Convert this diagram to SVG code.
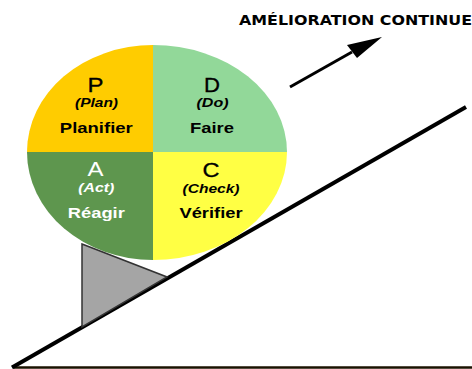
<svg xmlns="http://www.w3.org/2000/svg" width="472" height="369" viewBox="0 0 472 369">
<style>
text{font-family:"Liberation Sans",Arial,sans-serif;text-anchor:middle;fill:#000}
.l{font-size:21px;stroke:#000;stroke-width:.3px}
.s{font-size:12.5px;font-weight:bold;font-style:italic}
.m{font-size:15.5px;font-weight:bold}
.w{fill:#fff;stroke:none}
</style>
<rect width="472" height="369" fill="#fff"/>
<g id="connectors">
<path d="M14 367.500H472" stroke="#1a1200" stroke-width="2.500" fill="none"/>
<path d="M12 367.500L466 107" stroke="#000" stroke-width="4" fill="none"/>
<path d="M290 87L352 52" stroke="#000" stroke-width="3" fill="none"/>
<path d="M382 37L347 45L357 58Z" fill="#000"/>
</g>
<g id="wheel">
<path d="M153 152H27A126 107 0 0 1 153 45Z" fill="#ffcc00"/>
<path d="M153 152V45A134 107 0 0 1 287 152Z" fill="#92d899"/>
<path d="M153 152H287A134 108 0 0 1 153 260Z" fill="#ffff44"/>
<path d="M153 152V260A126 108 0 0 1 27 152Z" fill="#5e964e"/>
</g>
<g id="plan">
<text class="l" x="95.500" y="92" textLength="16" lengthAdjust="spacingAndGlyphs">P</text><text class="s" x="96.500" y="107" textLength="43" lengthAdjust="spacingAndGlyphs">(Plan)</text><text class="m" x="96.300" y="133" textLength="73" lengthAdjust="spacingAndGlyphs">Planifier</text>
</g>
<g id="do">
<text class="l" x="212" y="92" textLength="16" lengthAdjust="spacingAndGlyphs">D</text><text class="s" x="212.500" y="107" textLength="32" lengthAdjust="spacingAndGlyphs">(Do)</text><text class="m" x="212" y="133" textLength="44" lengthAdjust="spacingAndGlyphs">Faire</text>
</g>
<g id="act">
<text class="l w" x="95.500" y="176" textLength="16" lengthAdjust="spacingAndGlyphs">A</text><text class="s w" x="96.300" y="192" textLength="36" lengthAdjust="spacingAndGlyphs">(Act)</text><text class="m w" x="96.300" y="218" textLength="57" lengthAdjust="spacingAndGlyphs">Réagir</text>
</g>
<g id="check">
<text class="l" x="211" y="177" textLength="17" lengthAdjust="spacingAndGlyphs">C</text><text class="s" x="211" y="192.500" textLength="57" lengthAdjust="spacingAndGlyphs">(Check)</text><text class="m" x="211" y="218" textLength="63" lengthAdjust="spacingAndGlyphs">Vérifier</text>
</g>
<g id="wedge">
<path d="M82 244L167 277L82 327Z" fill="#a5a5a5" stroke="#333" stroke-width="1.500"/>
</g>
<g id="title">
<text x="355.500" y="25" textLength="233" lengthAdjust="spacingAndGlyphs" style="font-family:'DejaVu Sans',sans-serif;font-size:14px;font-weight:bold">AMÉLIORATION CONTINUE</text>
</g>
</svg>
